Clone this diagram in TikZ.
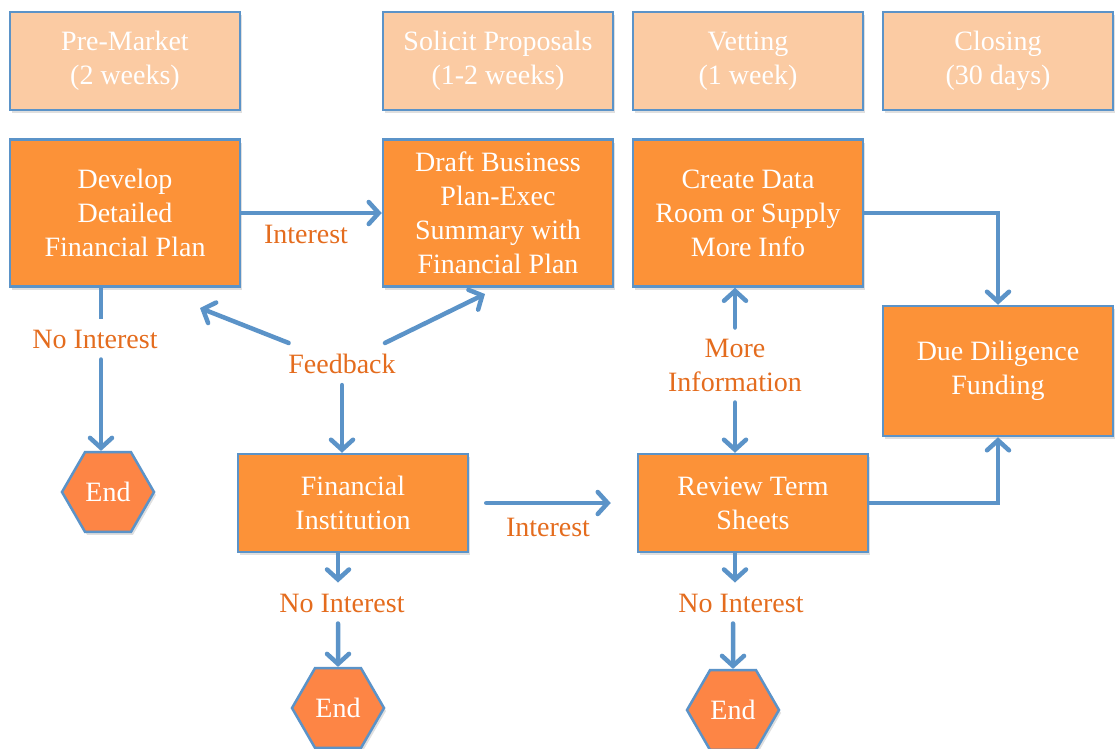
\documentclass[tikz,border=0pt]{standalone}
\usepackage{fontspec}
\setmainfont{Liberation Serif}
\usetikzlibrary{shapes.geometric, arrows.meta, shadows}
\definecolor{lineblue}{RGB}{91,147,200}
\definecolor{paleorange}{RGB}{251,203,163}
\definecolor{boxorange}{RGB}{252,146,56}
\definecolor{hexorange}{RGB}{253,133,69}
\definecolor{textorange}{RGB}{228,108,30}

\begin{document}
\begin{tikzpicture}[x=1pt, y=-1pt, font=\fontsize{28}{34}\selectfont]
        \tikzstyle{phase} = [draw=lineblue, line width=2.5pt, fill=paleorange, text=white, align=center, minimum width=230pt, minimum height=98pt, inner sep=0pt, drop shadow={opacity=0.25, shadow xshift=2pt, shadow yshift=-3pt}]
        \tikzstyle{task} = [phase, fill=boxorange]
        \tikzstyle{stop} = [draw=lineblue, line width=2.5pt, fill=hexorange, text=white, regular polygon, regular polygon sides=6, minimum size=92pt, inner sep=0pt, drop shadow={opacity=0.25, shadow xshift=2pt, shadow yshift=-3pt}]
        \tikzstyle{note} = [text=textorange, align=center, inner sep=11pt]
        \tikzstyle{flow} = [color=lineblue, line width=4.5pt, line cap=round, -{Straight Barb[length=10pt, width=22pt, line cap=round]}]
        \tikzstyle{plain} = [color=lineblue, line width=4.5pt]
        \useasboundingbox (0,0) rectangle (1119,748);
        % phases
        \node[phase] (PM) at (125,61) {Pre-Market\\(2 weeks)};
        \node[phase] (SP) at (498,61) {Solicit Proposals\\(1-2 weeks)};
        \node[phase] (VT) at (748,61) {Vetting\\(1 week)};
        \node[phase] (CL) at (998,61) {Closing\\(30 days)};
        % steps
        \node[task, minimum height=147pt] (DEV) at (125,213) {Develop\\Detailed\\Financial Plan};
        \node[task, minimum height=147pt] (DRAFT) at (498,213) {Draft Business\\Plan-Exec\\Summary with\\Financial Plan};
        \node[task, minimum height=147pt] (CDR) at (748,213) {Create Data\\Room or Supply\\More Info};
        \node[task, minimum height=130pt] (DUE) at (998,371) {Due Diligence\\Funding};
        \node[task] (FI) at (353,503) {Financial\\Institution};
        \node[task] (RTS) at (753,503) {Review Term\\Sheets};
        \node[stop] (END1) at (108,492) {End};
        \node[stop] (END2) at (338,708) {End};
        \node[stop] (END3) at (733,710) {End};
        % labels
        \node[note] (INT1) at (306,234) {Interest};
        \node[note] (NI1) at (95,339) {No Interest};
        \node[note] (FB) at (342,364) {Feedback};
        \node[note] (MI) at (735,365) {More\\Information};
        \node[note] (INT2) at (548,527) {Interest};
        \node[note] (NI2) at (342,603) {No Interest};
        \node[note] (NI3) at (741,603) {No Interest};
        \coordinate (fbL) at (200,308);
        \coordinate (fbR) at (485,294);
        % connectors
        \path[flow] (DEV) edge (DRAFT);
        \path[plain] ([xshift=-24pt]DEV.south) edge ([xshift=-24pt]DEV.south |- NI1.north);
        \path[flow] ([xshift=-24pt]DEV.south |- NI1.south) edge ([xshift=-24pt]DEV.south |- END1.north);
        \path[flow] (FB) edge (fbL)
        (FB) edge (fbR)
        (FB) edge (FB |- FI.north);
        \path[flow] (FI.south -| END2) edge (NI2.north -| END2)
        (NI2.south -| END2) edge (END2.north);
        \path[flow] (FI) edge[shorten <=17pt, shorten >=26pt] (RTS);
        \path[flow] (MI.north) edge (MI.north |- CDR.south)
        (MI.south) edge (MI.south |- RTS.north);
        \path[flow] (RTS.south -| MI) edge (NI3.north -| MI)
        (NI3.south -| END3) edge (END3.north);
        \draw[flow] (CDR.east) -| (DUE.north);
        \draw[flow] (RTS.east) -| (DUE.south);
\end{tikzpicture}
\end{document}
